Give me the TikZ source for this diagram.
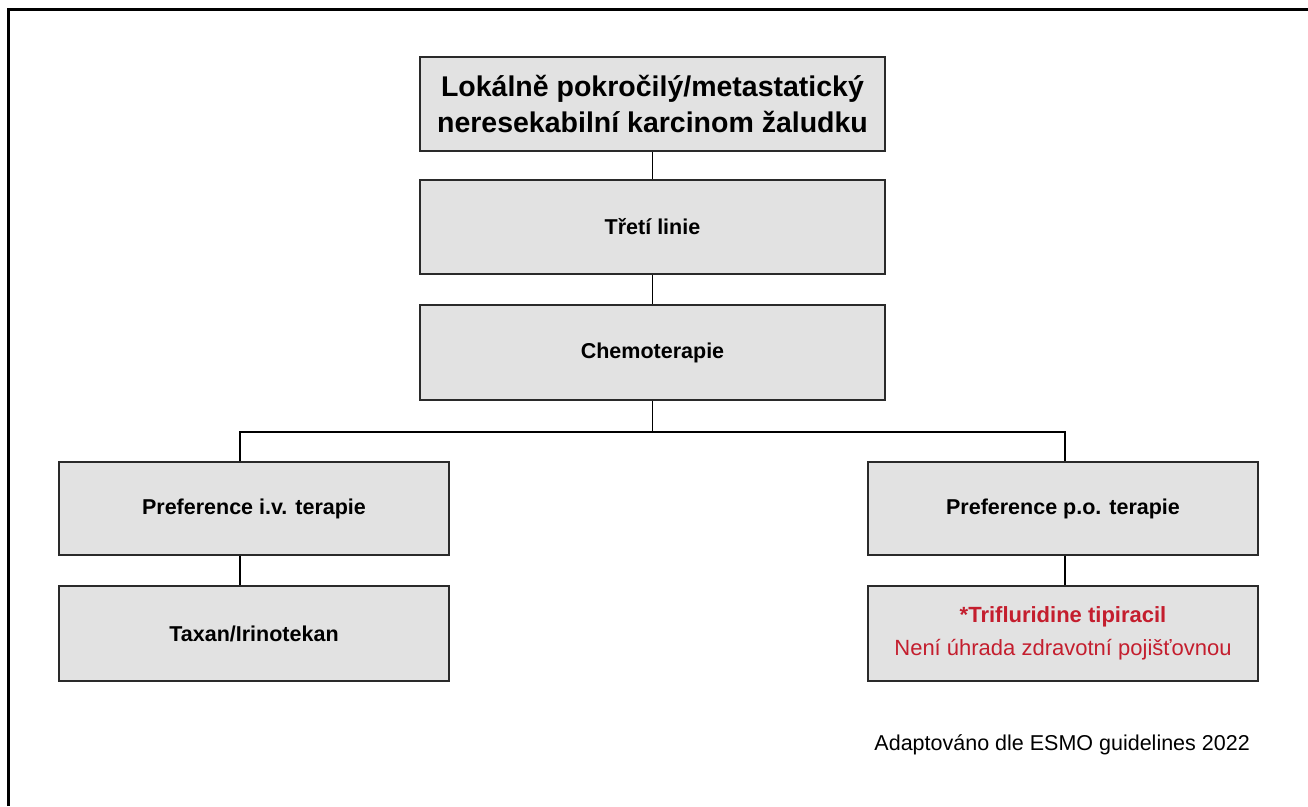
\documentclass[tikz,border=0pt]{standalone}
\usepackage{fontspec}
\setmainfont{Liberation Sans}
\definecolor{boxfill}{HTML}{E2E2E2}
\definecolor{boxline}{HTML}{2A2A2A}
\definecolor{redtxt}{HTML}{C41E2E}
\begin{document}
\begin{tikzpicture}[x=1pt,y=-1pt,
  box/.style={draw=boxline,line width=1.6pt,fill=boxfill,inner sep=0pt,align=center,font=\fontsize{21.5}{26}\selectfont\bfseries},
  conn/.style={draw=black,line width=1.2pt}]
\useasboundingbox (0,0) rectangle (1308,806);
\fill[white] (0,0) rectangle (1308,806);
\draw[line width=3pt,black] (8,806) -- (8,9.5) -- (1308,9.5);
\node[box,minimum width=465pt,minimum height=94pt,font=\fontsize{28.5}{36}\selectfont\bfseries] (top) at (652.5,104) {Lokálně pokročilý/metastatický\\neresekabilní karcinom žaludku};
\node[box,minimum width=465pt,minimum height=94pt] (tl) at (652.5,227) {Třetí linie};
\node[box,minimum width=465pt,minimum height=95pt] (chemo) at (652.5,352.5) {Chemoterapie};
\node[box,minimum width=390pt,minimum height=93pt] (ivp) at (254,508.5) {Preference i.v. terapie};
\node[box,minimum width=390pt,minimum height=95pt] (tax) at (254,633.5) {Taxan/Irinotekan};
\node[box,minimum width=390pt,minimum height=95pt,text=redtxt,font=\fontsize{22}{33}\selectfont] (tri) at (1063,633.5) {\textbf{*Trifluridine tipiracil}\\Není úhrada zdravotní pojišťovnou};
\node[box,minimum width=390pt,minimum height=93pt] (pop) at (1063,508.5) {Preference p.o. terapie};
\node[anchor=base east,inner sep=0pt,font=\fontsize{21.5}{24}\selectfont] (src) at (1250,750) {Adaptováno dle ESMO guidelines 2022};
\coordinate (jL) at (240,432);
\coordinate (jR) at (1065,432);
\draw[conn] (top.south) -- (tl.north);
\draw[conn] (tl.south) -- (chemo.north);
\draw[conn] (chemo.south) -- (chemo.south |- jL);
\draw[conn] (jL |- ivp.north) -- (jL) -- (jR) -- (jR |- pop.north);
\draw[conn] (jL |- ivp.south) -- (jL |- tax.north);
\draw[conn] (jR |- pop.south) -- (jR |- tri.north);
\end{tikzpicture}
\end{document}
